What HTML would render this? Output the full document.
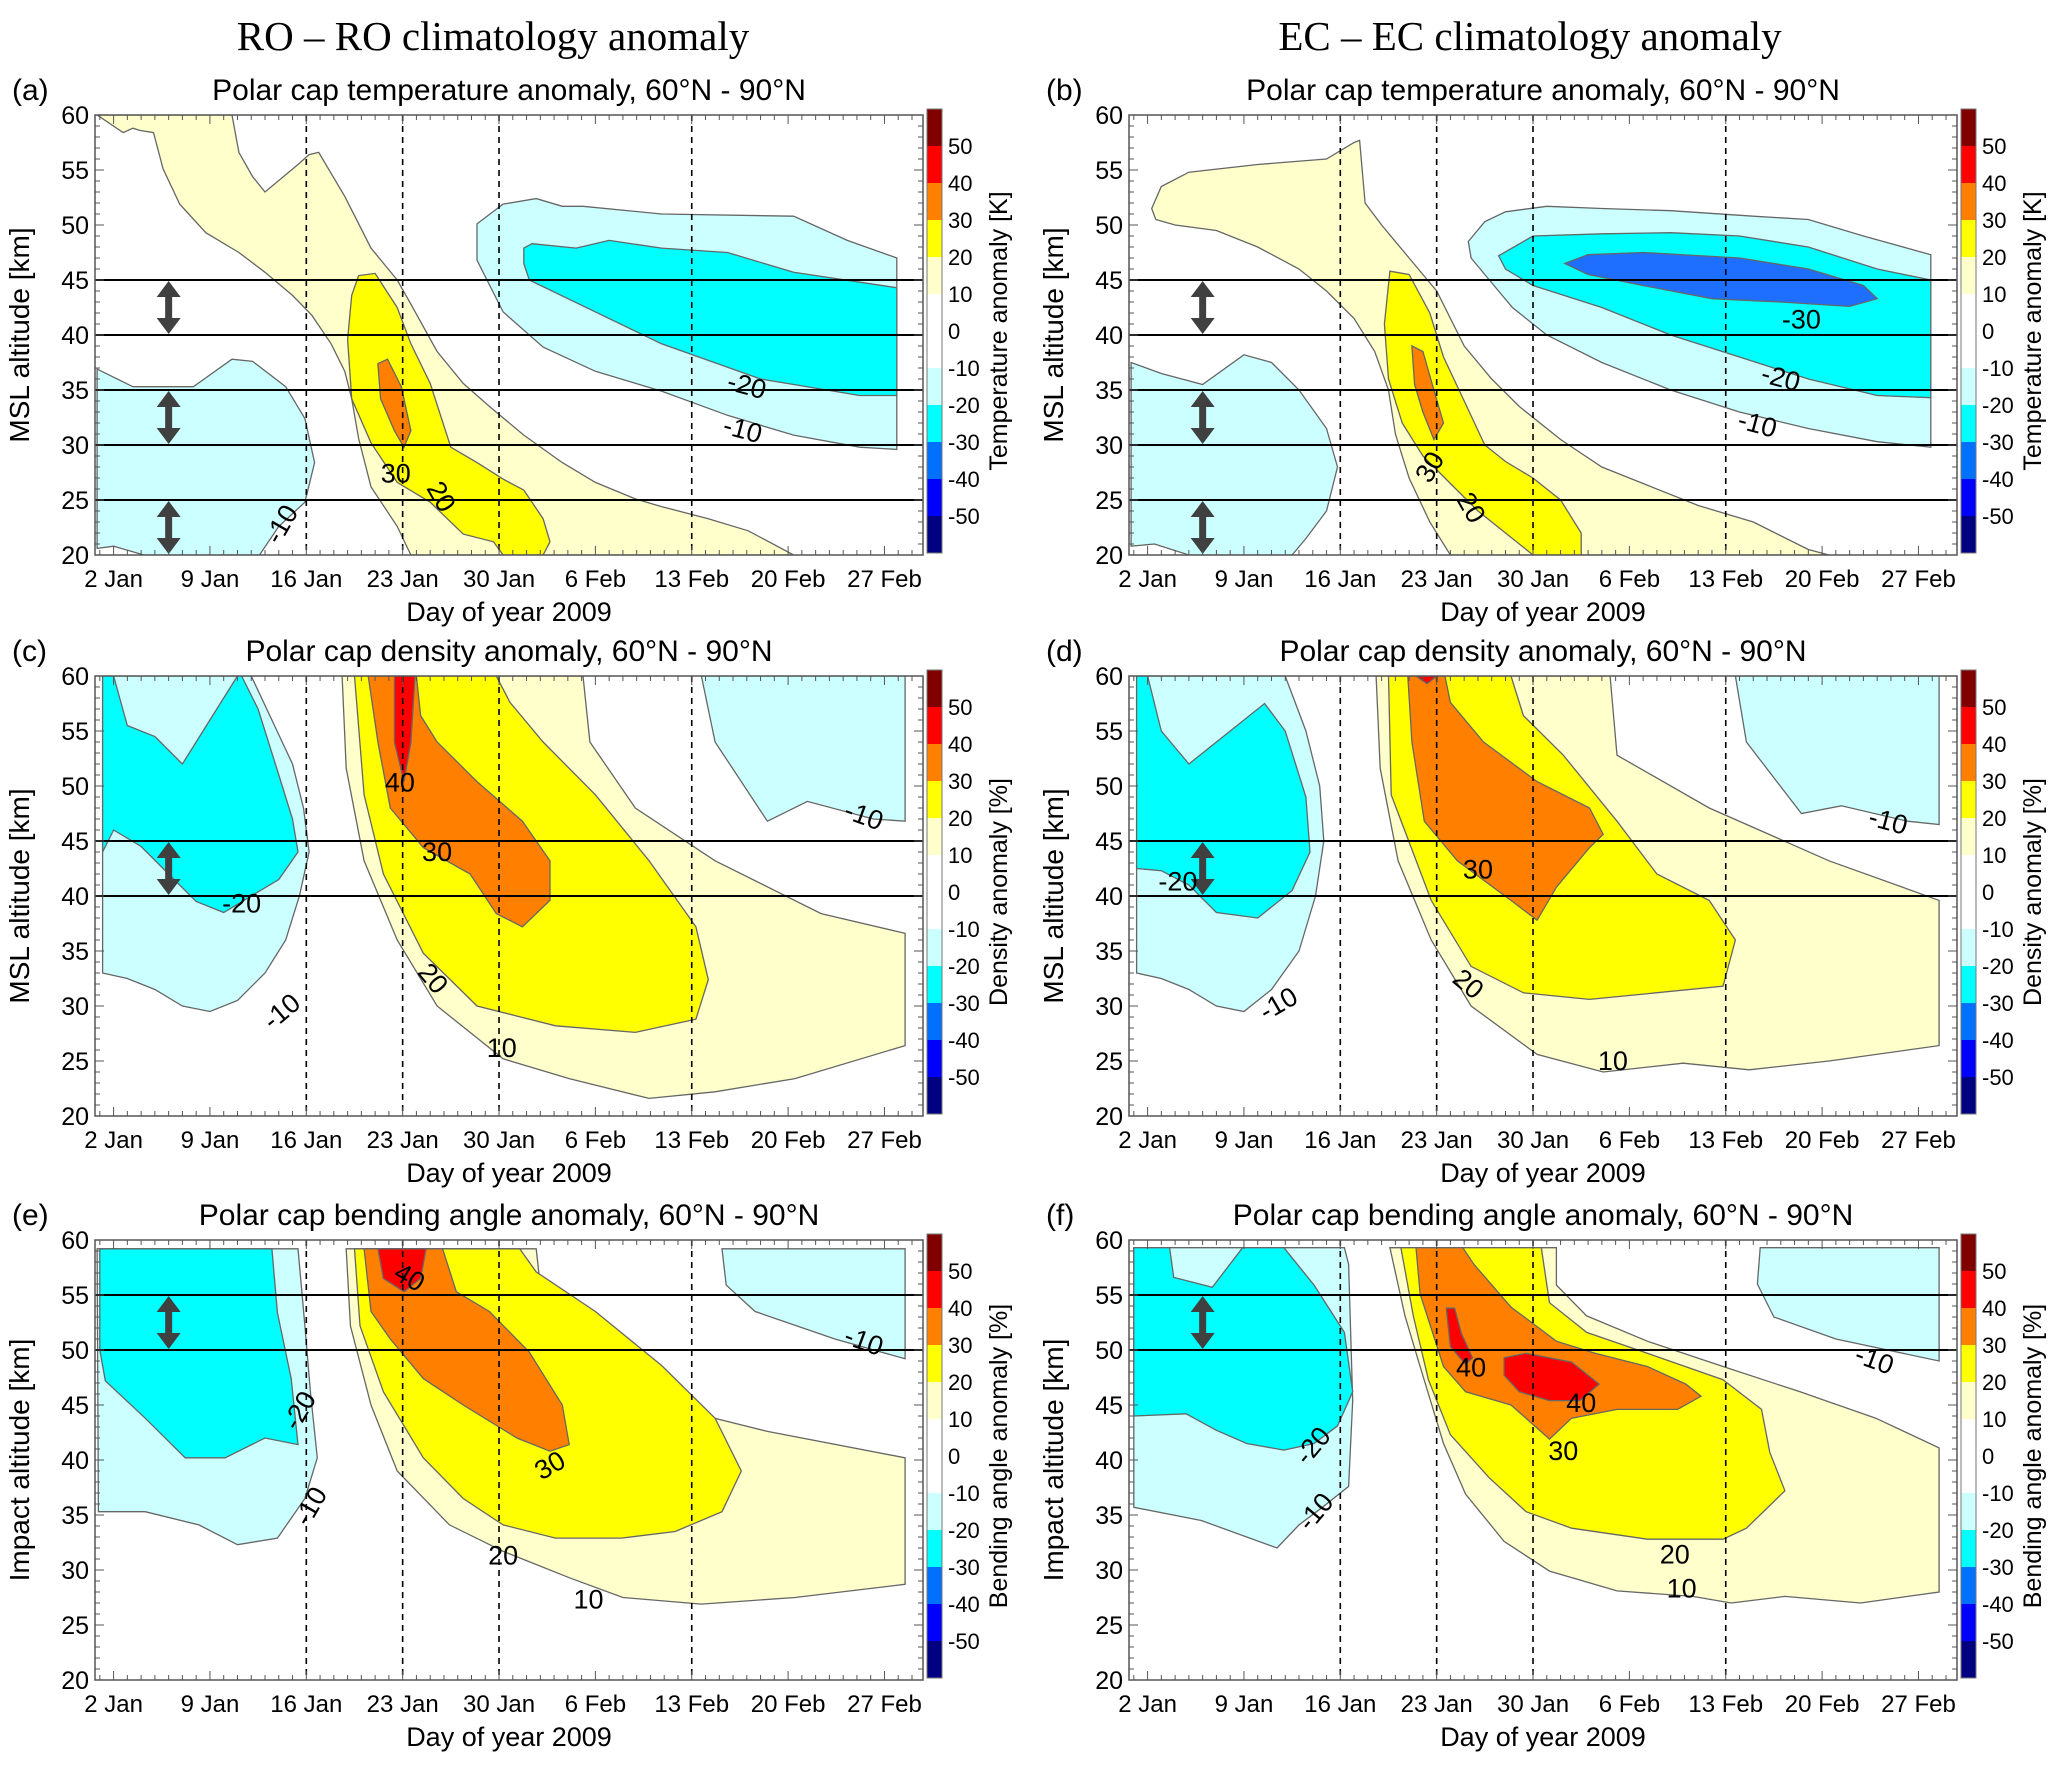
<!DOCTYPE html>
<html><head><meta charset="utf-8"><style>
html,body{margin:0;padding:0;background:#fff}
svg text{font-family:"Liberation Sans Narrow","Liberation Sans",sans-serif;fill:#000}
</style></head><body>
<svg id="fig" width="2067" height="1761" viewBox="0 0 2067 1761" xmlns="http://www.w3.org/2000/svg">
<text x="493" y="50" font-size="41" text-anchor="middle" style="font-family:'Liberation Serif',serif">RO – RO climatology anomaly</text>
<text x="1530" y="50" font-size="41" text-anchor="middle" style="font-family:'Liberation Serif',serif">EC – EC climatology anomaly</text>
</svg>
<script>
// ---- data ----
const xTickDays=[2,9,16,23,30,37,44,51,58];
const xTickLabels=["2 Jan","9 Jan","16 Jan","23 Jan","30 Jan","6 Feb","13 Feb","20 Feb","27 Feb"];
const yTicks=[20,25,30,35,40,45,50,55,60];
const cbLevels=[50,40,30,20,10,0,-10,-20,-30,-40,-50];
const cbColors=["#800000","#ff0000","#ff8000","#ffff00","#ffffcc","#ffffff","#ffffff","#ccffff","#00ffff","#0070ff","#0000ff","#000080"];
const eventDays=[16,23,30,44];
const levelColor={"-30":"#1e6fff","-20":"#00ffff","-10":"#ccffff","10":"#ffffcc","20":"#ffff00","30":"#ff8000","40":"#ff0000"};

const aLc1=[[0.8,36.9],[3.4,35.3],[7.8,35.3],[10.6,37.8],[12.1,37.6],[14.5,35.3],[15.9,32.4],[16.6,28.4],[15.9,24.8],[14,22.6],[12.6,20],[4.2,20],[2,20.8],[0.8,20.6]];
const aLc2=[[28.4,50.1],[30.3,51.9],[32.7,52.4],[34.6,51.7],[36.1,51.7],[41.8,51],[51.4,50.8],[55.3,48.6],[58.9,47],[58.9,29.6],[56.2,29.8],[51.4,30.9],[46.6,32.7],[41.8,34.9],[37,36.7],[33.2,38.9],[30.3,42.1],[28.4,46.8]];
const aCy=[[31.8,47.9],[32.4,48.3],[35.6,47.9],[38,48.6],[41.8,47.9],[46.6,47.5],[51.4,45.7],[58.9,44.3],[58.9,34.5],[56.2,34.5],[49,36],[41.8,39.2],[37,42.1],[32.2,45],[31.8,46.5]];
const aLy=[[0.8,60],[2.7,58.4],[3.4,58.8],[3.9,58.6],[4.9,58.4],[5.6,55.1],[6.8,51.9],[8.7,49.3],[11.1,47.5],[13,45.7],[15,43.6],[16.4,41.8],[17.8,39.2],[18.8,36.7],[19.3,34.2],[19.8,30.6],[20.7,26.2],[22.6,22.6],[23.6,20],[51.4,20],[48.1,22.2],[45.2,23.3],[41.8,24.4],[39.9,25.1],[37,26.6],[34.6,28.4],[31.8,30.9],[29.4,33.4],[27.4,35.6],[25.5,38.5],[23.6,42.8],[22.6,45],[20.7,47.9],[18.8,52.6],[16.9,56.6],[16.2,56.4],[15.4,55.5],[13,53],[12.1,54.4],[11.1,56.6],[10.6,60]];
const aYe=[[19.8,45.4],[21,45.6],[22.6,42.5],[23.6,39.2],[25,35.6],[26.5,29.8],[28.4,28.4],[30.3,26.9],[31.8,25.9],[33.2,23.3],[33.7,21.2],[33.2,20],[30.3,20],[29.6,21.2],[27.4,21.9],[25,24.8],[22.6,26.6],[20.7,30.2],[19.3,34.2],[19,39.6],[19.3,43.6]];
const aOr=[[21.2,37.4],[21.9,37.8],[22.9,35.3],[23.6,31.3],[23.1,29.8],[22.4,31.3],[21.4,34.2]];

const bLc1=[[0.8,37.5],[3,36.5],[6,35.5],[9,38.2],[11,37.5],[13,35],[15,31.5],[15.8,28],[15,24],[13.5,21.5],[12.5,20],[5,20],[2.5,21],[0.8,20.8]];
const bLc2=[[25.3,48.5],[26.5,50.3],[28,51.2],[31,51.7],[35,51.5],[40,51.3],[46,50.8],[50,50.5],[54,49],[58.9,47.3],[58.9,29.8],[55,30.3],[50,31.5],[45,33],[40,35],[35,37.5],[31,40],[28.5,42.5],[26.5,45.5],[25.5,47]];
const bCy=[[27.5,47.2],[30,49],[35,49.2],[40,49.3],[45,49],[50,48],[55,46],[58.9,45],[58.9,34.3],[55,34.5],[50,36],[45,38],[40,40],[35,42.5],[30,44.5],[28,46]];
const bBl=[[32.3,46.5],[34,47.3],[38,47.5],[45,47],[50,46],[54,44.5],[55,43.3],[53,42.6],[48,43],[43,43.3],[38,44.5],[34,45.5]];
const bLy=[[2.3,51.5],[3,53.5],[5,54.8],[10,55.5],[15,56],[17,57.5],[17.4,57.7],[17.8,52],[19,50],[21,47],[23,44],[25,39],[27,36],[29,33.5],[32,30.5],[35,28],[38,26.5],[42,24.5],[46,23],[50,20.5],[51.5,20],[24,20],[22.5,23],[21,27],[20,31],[19.5,35],[18.5,38.5],[17,41.5],[15,44],[13,46],[10,48],[7,49.5],[4,50],[2.6,50.5]];
const bYe=[[19.6,45.8],[21,45.5],[22.5,42],[23.5,38],[25,34],[26.5,30],[28,28.5],[30,27],[32,25],[33.5,22],[33.5,20],[30,20],[28,22],[26,24],[24,26.5],[22,29],[20.5,32],[19.5,36],[19.2,41]];
const bOr=[[21.2,39],[22,38.5],[22.8,35],[23.5,32],[22.8,30.5],[22,33],[21.4,35.5]];

const cLc1=[[1.2,60],[12,60],[13.5,56],[15,52],[15.8,48],[16.2,44],[15.5,40],[14.5,36],[13,33],[11,30.5],[9,29.5],[7,30],[5,31.5],[3,32.5],[1.2,33]];
const cCy=[[2,60],[3,55.5],[5,54.5],[7,52],[9,56],[10.5,59],[11,60],[11.3,60],[12.5,57],[14,51],[15,47],[15.4,44],[14,41.5],[12,40],[10,38.5],[8,39.5],[6,42],[4,44.5],[2,46],[1.2,44],[1.2,60]];
const cLc2=[[44.7,60],[45.7,54],[49.5,46.8],[52.4,48.6],[57.2,47],[59.5,46.8],[59.5,60]];
const cLy=[[18.6,60],[18.9,51.6],[20.2,43.2],[22.6,36],[25.5,30],[30.3,25.2],[35.1,23.4],[40.9,21.6],[45.7,22.2],[51.5,23.4],[59.5,26.4],[59.5,36.6],[53.4,38.4],[45.7,43.2],[39.9,48],[36.6,54],[36.1,60]];
const cYe=[[19.5,60],[20.2,49.2],[21.6,42],[24.5,34.8],[28.4,30],[34.1,28.2],[39.9,27.6],[44.3,28.8],[45.2,32.4],[44.3,37.2],[40.9,43.2],[37,49.2],[33.2,54],[30.8,57.6],[29.8,60]];
const cOr=[[20.5,60],[21.2,54],[22.1,48],[24.5,44.4],[27.9,42],[29.8,38.4],[31.7,37.2],[33.7,39.6],[33.7,43.2],[31.7,46.8],[28.4,50.4],[25.5,54],[24.3,56.4],[24,60]];
const cRe=[[22.4,60],[22.4,54],[23.1,50.4],[23.6,54],[23.9,60]];

const dLc1=[[1.2,60],[12,60],[13.5,55],[14.5,50],[14.8,45],[14.2,40],[13,35],[11,31.5],[9,29.5],[7,30],[5,31.5],[3,32.5],[1.2,33]];
const dCy=[[1.2,60],[2,60],[3,55],[5,52],[8,55],[10.5,57.5],[12,55],[13.5,49],[13.8,44],[12.5,40.5],[10,38],[7,38.5],[5,41],[3,42.3],[1.2,42.5]];
const dLc2=[[44.7,60],[45.5,54],[49.5,47.5],[52.4,48.2],[57.2,46.8],[59.5,46.5],[59.5,60]];
const dLy=[[18.6,60],[18.9,51.6],[20.2,43.2],[22.6,36],[25.5,30],[30.3,25.6],[35.1,24],[40.9,24.8],[45.7,24.2],[51.5,25],[59.5,26.4],[59.5,39.6],[51.5,43.2],[42.8,48],[36.1,52.8],[35.6,60]];
const dYe=[[19.5,60],[19.7,49.2],[22.6,39.6],[25.5,33.6],[29.3,31.2],[34.1,30.6],[43.8,31.8],[44.7,36],[42.8,39.6],[39,42],[36.1,46.8],[32.2,52.8],[29.3,56.4],[28.4,60]];
const dOr=[[20.9,60],[21.2,54],[22.1,46.8],[24.5,43.2],[28.4,39.6],[30.3,37.8],[31.7,40.8],[34.1,44.4],[35.1,45.6],[34.1,48],[30.3,50.4],[26.4,54],[24,57.6],[23.6,60]];
const dRe=[[21.5,60],[22.3,59.3],[23,60]];

const eLc1=[[0.8,59.2],[15.4,59.2],[15.9,52.2],[16.3,46.2],[16.8,40.2],[15.9,36.5],[13.9,32.9],[11,32.3],[8.2,34.1],[4.3,35.3],[0.9,35.3]];
const eCy=[[1,59.2],[13.5,59.2],[13.9,53.4],[14.9,47.4],[15.4,41.4],[13,42],[10.1,40.2],[7.2,40.2],[4.3,43.8],[1.4,47.2],[1,50]];
const eLc2=[[46.2,59.2],[46.5,55.9],[48.6,53.5],[54.4,51],[59.5,49.2],[59.5,59.2]];
const eLy=[[18.9,59.2],[19.2,52.2],[20.7,45],[22.6,39],[26.4,34.1],[30.3,31.7],[35.1,29.3],[39,27.5],[44.7,26.9],[51.5,27.5],[59.5,28.7],[59.5,40.2],[49.5,42.6],[41.8,45],[36.1,48.6],[33.2,53.5],[32.7,59.2]];
const eYe=[[19.5,59.2],[19.9,52.2],[21.6,46.2],[24.5,40.2],[27.4,36.5],[30.3,34.1],[34.1,32.9],[38.9,32.9],[42.8,33.5],[46.2,35.3],[47.6,39],[45.7,43.8],[41.8,48.6],[37,53.5],[32.7,57.1],[31.5,59.2]];
const eOr=[[20.2,59.2],[20.7,53.5],[22.1,51],[24.5,47.4],[27.4,45],[31.3,42],[33.7,40.8],[35.1,41.4],[34.6,45],[32.2,49.8],[29.3,53.5],[26.9,55.3],[25.9,59.2]];
const eRe=[[21.2,59.2],[21.6,56.5],[23.1,55.3],[24.3,56.5],[24.7,59.2]];

const fLc1=[[1,59.3],[16.3,59.3],[16.6,57.8],[16.9,45.4],[16.6,37.6],[14.7,35.7],[13,34.1],[11.4,32],[9.2,33],[5.9,34.5],[1,35.7]];
const fCy=[[1,59.3],[3.6,59.3],[3.9,56.6],[6.7,55.7],[8.9,59.3],[11.9,59.3],[14.1,55.9],[16.3,51.6],[16.9,46.2],[15.8,43.1],[14.1,41.5],[11.9,40.9],[9.2,41.5],[7,42.7],[4.8,44.2],[1,44]];
const fLc2=[[46.5,59.3],[46.3,56],[47.5,53],[52,51],[59.5,49],[59.5,59.3]];
const fLy=[[19.6,59.3],[20.7,53.1],[21.8,48.5],[23.5,41.5],[25.1,36.9],[27.9,32.6],[31.2,29.9],[36.1,28.1],[41.6,27.6],[44.4,27],[48.3,27.6],[53.8,27],[59.5,28],[59.5,41.1],[54.9,43.8],[49.4,46.2],[43.8,48.5],[38.3,50.8],[33.9,53.1],[31.7,55.9],[31.7,59.3]];
const fYe=[[20.4,59.3],[21.3,53.1],[22.4,47.3],[24,42.3],[26.8,38.4],[29.5,35.3],[32.8,33.8],[38.3,32.8],[43.8,32.8],[45.5,33.8],[48.3,37.2],[47.2,40.7],[46.6,44.6],[43.8,47.3],[38.3,49.7],[33.9,51.6],[31.2,54.3],[30.6,59.3]];
const fOr=[[21.5,59.3],[21.8,55.1],[23.5,48.5],[25.1,46.2],[28.4,45],[31.2,41.9],[32.8,43.8],[36.1,44.6],[40.5,44.6],[42.2,45.8],[41.1,46.9],[38.3,48.5],[34.5,49.7],[31.7,50.8],[28.4,53.9],[25.7,57.8],[24.9,59.3]];
const fRe1=[[23.7,53.8],[24,50.3],[25.1,48.7],[25.6,49.3],[24.8,51.5],[24.3,53.8]];
const fRe2=[[27.9,49.3],[29.5,49.7],[32.8,48.9],[34.8,46.9],[33.4,45.4],[31.2,45.4],[29,46.2],[27.9,47.7]];

const panels=[
 {id:"a",col:0,row:0,title:"Polar cap temperature anomaly, 60°N - 90°N",ylab:"MSL altitude [km]",cblab:"Temperature anomaly [K]",
  shapes:[["-10",aLc1],["-10",aLc2],["-20",aCy],["10",aLy],["20",aYe],["30",aOr]],lines:[25,30,35,40,45],arrows:[[20,25],[30,35],[40,45]],
  labels:[[14.2,22.8,"-10",-60],[22.5,27.4,"30",0],[25.8,25.3,"20",60],[48,35.4,"-20",15],[47.7,31.4,"-10",15]]},
 {id:"b",col:1,row:0,title:"Polar cap temperature anomaly, 60°N - 90°N",ylab:"MSL altitude [km]",cblab:"Temperature anomaly [K]",
  shapes:[["-10",bLc1],["-10",bLc2],["-20",bCy],["-30",bBl],["10",bLy],["20",bYe],["30",bOr]],lines:[25,30,35,40,45],arrows:[[20,25],[30,35],[40,45]],
  labels:[[49.5,41.4,"-30",0],[48,36.1,"-20",15],[46.3,31.9,"-10",15],[22.5,28,"30",-60],[25.5,24.3,"20",60]]},
 {id:"c",col:0,row:1,title:"Polar cap density anomaly, 60°N - 90°N",ylab:"MSL altitude [km]",cblab:"Density anomaly [%]",
  shapes:[["-10",cLc1],["-20",cCy],["-10",cLc2],["10",cLy],["20",cYe],["30",cOr],["40",cRe]],lines:[40,45],arrows:[[40,45]],
  labels:[[22.8,50.3,"40",0],[25.5,44,"30",0],[25.2,32.5,"20",50],[30.2,26.2,"10",0],[11.3,39.3,"-20",0],[14.2,29.5,"-10",-40],[56.5,47.3,"-10",20]]},
 {id:"d",col:1,row:1,title:"Polar cap density anomaly, 60°N - 90°N",ylab:"MSL altitude [km]",cblab:"Density anomaly [%]",
  shapes:[["-10",dLc1],["-20",dCy],["-10",dLc2],["10",dLy],["20",dYe],["30",dOr],["40",dRe]],lines:[40,45],arrows:[[40,45]],
  labels:[[26,42.4,"30",0],[25.3,32,"20",40],[35.8,25,"10",0],[4.2,41.3,"-20",0],[11.5,30.2,"-10",-30],[55.8,46.8,"-10",15]]},
 {id:"e",col:0,row:2,title:"Polar cap bending angle anomaly, 60°N - 90°N",ylab:"Impact altitude [km]",cblab:"Bending angle anomaly [%]",
  shapes:[["-10",eLc1],["-20",eCy],["-10",eLc2],["10",eLy],["20",eYe],["30",eOr],["40",eRe]],lines:[50,55],arrows:[[50,55]],
  labels:[[23.5,56.6,"40",30],[33.7,39.5,"30",-30],[30.3,31.3,"20",0],[36.5,27.3,"10",0],[15.5,44.5,"-20",-60],[16.3,35.8,"-10",-60],[56.5,50.8,"-10",20]]},
 {id:"f",col:1,row:2,title:"Polar cap bending angle anomaly, 60°N - 90°N",ylab:"Impact altitude [km]",cblab:"Bending angle anomaly [%]",
  shapes:[["-10",fLc1],["-20",fCy],["-10",fLc2],["10",fLy],["20",fYe],["30",fOr],["40",fRe1],["40",fRe2]],lines:[50,55],arrows:[[50,55]],
  labels:[[25.5,48.4,"40",0],[33.5,45.2,"40",0],[32.2,40.8,"30",0],[40.3,31.4,"20",0],[40.8,28.3,"10",0],[14,41.3,"-20",-50],[14.2,35.3,"-10",-50],[54.8,49.1,"-10",20]]}
];

// ---- drawing ----
const NS="http://www.w3.org/2000/svg";
const svg=document.getElementById("fig");
function mk(tag,attrs,parent){const e=document.createElementNS(NS,tag);for(const k in attrs)e.setAttribute(k,attrs[k]);(parent||svg).appendChild(e);return e;}
const colX=[95,1129], rowY=[115,676,1240], W=828, H=440, D0=0.65, D1=60.8;

panels.forEach(p=>{
 const x0=colX[p.col], y0=rowY[p.row];
 const X=d=>x0+(d-D0)/(D1-D0)*W;
 const Y=k=>y0+H-(k-20)/40*H;
 const g=mk("g",{});
 
 
 const t=mk("text",{x:x0+W/2,y:y0-15,"font-size":30,"text-anchor":"middle"},g);t.textContent=p.title;
 
 
 const pl=mk("text",{x:x0-83,y:y0-15,"font-size":30},g);pl.textContent="("+p.id+")";
 
 
 const clip=mk("clipPath",{id:"clip"+p.id},g);mk("rect",{x:x0,y:y0,width:W,height:H},clip);
 const cg=mk("g",{"clip-path":"url(#clip"+p.id+")"},g);
 p.shapes.forEach(([lv,pts])=>{
  const poly=mk("polygon",{points:pts.map(q=>X(q[0]).toFixed(1)+","+Y(q[1]).toFixed(1)).join(" "),fill:levelColor[lv],stroke:"#666","stroke-width":1.3},cg);
  
  
 });
 eventDays.forEach(d=>{
  const l=mk("line",{x1:X(d),x2:X(d),y1:y0,y2:y0+H,stroke:"#000","stroke-width":1.6,"stroke-dasharray":"6,5"},g);
  
  
 });
 p.lines.forEach(k=>{
  const l=mk("line",{x1:x0,x2:x0+W,y1:Y(k),y2:Y(k),stroke:"#000","stroke-width":2},g);
  
  
 });
 p.arrows.forEach(([a,b])=>{
  const ax=X(6),ya=Y(b),yb=Y(a);
  const ar=mk("g",{},g);
  
  
  mk("line",{x1:ax,x2:ax,y1:ya+14,y2:yb-14,stroke:"#404040","stroke-width":7},ar);
  mk("polygon",{points:`${ax-12},${ya+17} ${ax+12},${ya+17} ${ax},${ya+1}`,fill:"#404040"},ar);
  mk("polygon",{points:`${ax-12},${yb-17} ${ax+12},${yb-17} ${ax},${yb-1}`,fill:"#404040"},ar);
 });
 p.labels.forEach(([d,k,s,r])=>{
  const tx=mk("text",{x:X(d),y:Y(k),"font-size":27,"text-anchor":"middle","dominant-baseline":"central",transform:`rotate(${r} ${X(d)} ${Y(k)})`},g);
  tx.textContent=s;
  
  
 });
 const fr=mk("rect",{x:x0,y:y0,width:W,height:H,fill:"none",stroke:"#555","stroke-width":1.5},g);
 
 
 for(let d=1;d<=60;d++){mk("line",{x1:X(d),x2:X(d),y1:y0+H,y2:y0+H-(d%7==2?9:5),stroke:"#555","stroke-width":1},g);mk("line",{x1:X(d),x2:X(d),y1:y0,y2:y0+(d%7==2?9:5),stroke:"#555","stroke-width":1},g);}
 for(let k=20;k<=60;k++){const L=k%5==0?9:5;mk("line",{x1:x0,x2:x0+L,y1:Y(k),y2:Y(k),stroke:"#555","stroke-width":1},g);mk("line",{x1:x0+W,x2:x0+W-L,y1:Y(k),y2:Y(k),stroke:"#555","stroke-width":1},g);}
 xTickDays.forEach((d,i)=>{
  const tx=mk("text",{x:X(d),y:y0+H+32,"font-size":24,"text-anchor":"middle"},g);tx.textContent=xTickLabels[i];
  
  
 });
 yTicks.forEach(k=>{
  const tx=mk("text",{x:x0-6,y:Y(k)+9,"font-size":25,"text-anchor":"end"},g);tx.textContent=k;
  
  
 });
 const xl=mk("text",{x:x0+W/2,y:y0+H+66,"font-size":27,"text-anchor":"middle"},g);xl.textContent="Day of year 2009";
 
 
 const yx=x0-66, yy=y0+H/2;
 const yl=mk("text",{x:yx,y:yy,"font-size":28,"text-anchor":"middle",transform:`rotate(-90 ${yx} ${yy})`},g);yl.textContent=p.ylab;
 
 
 const cx=x0+W+4, ct=y0-6, cb=y0+H-2, ch=(cb-ct)/12;
 const cbg=mk("g",{},g);
 
 
 cbColors.forEach((c,i)=>mk("rect",{x:cx,y:ct+i*ch,width:15,height:ch+0.5,fill:c},cbg));
 mk("rect",{x:cx,y:ct,width:15,height:cb-ct,fill:"none",stroke:"#777","stroke-width":1},cbg);
 cbLevels.forEach((v,i)=>{
  const tx=mk("text",{x:cx+21,y:ct+(i+1)*ch+8,"font-size":22},cbg);tx.textContent=v;
  
  
 });
 const lx=cx+80, ly=(ct+cb)/2;
 const cl=mk("text",{x:lx,y:ly,"font-size":25,"text-anchor":"middle",transform:`rotate(-90 ${lx} ${ly})`},cbg);cl.textContent=p.cblab;
 
 
});
</script>
</body></html>
